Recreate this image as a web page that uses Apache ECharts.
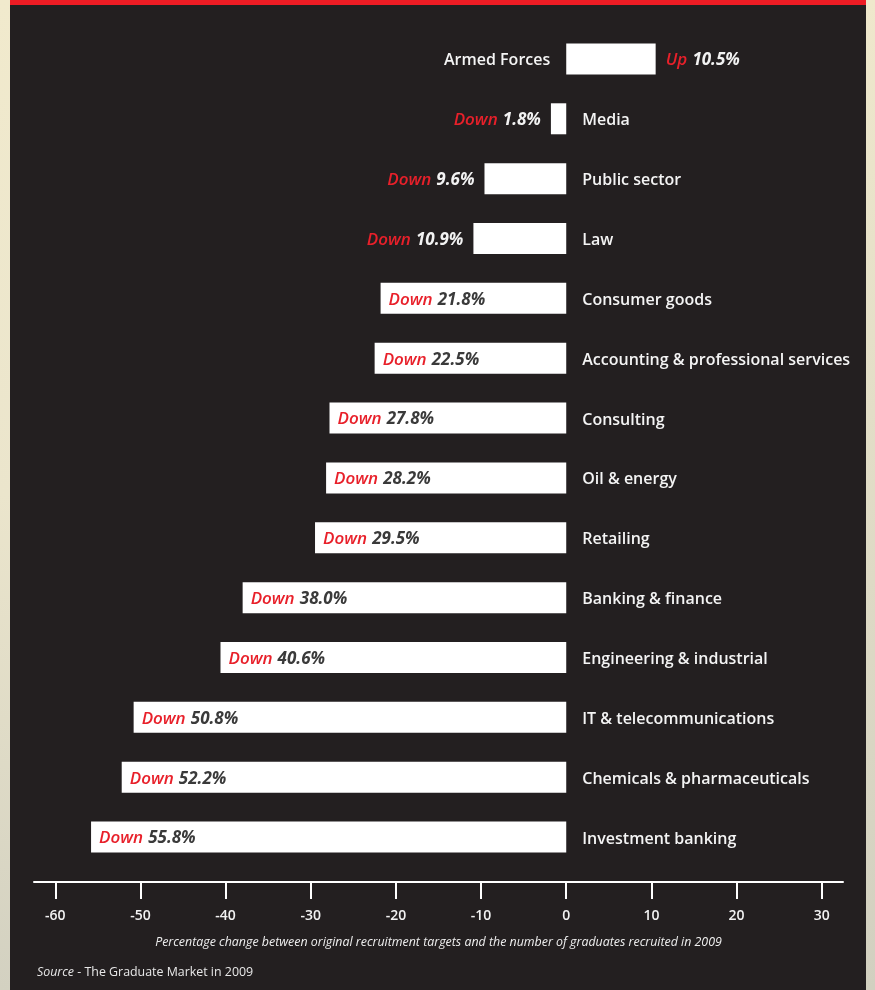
<!DOCTYPE html>
<html><head><meta charset="utf-8">
<script src="https://cdn.jsdelivr.net/npm/echarts@6/dist/echarts.min.js"></script>
<style>html,body{margin:0;padding:0;background:#231f20;}#c{width:875px;height:990px;}</style>
</head><body><div id="c"></div>
<script>
const categories = ['Armed Forces','Media','Public sector','Law','Consumer goods','Accounting & professional services','Consulting','Oil & energy','Retailing','Banking & finance','Engineering & industrial','IT & telecommunications','Chemicals & pharmaceuticals','Investment banking'];
const values = [10.5,-1.8,-9.6,-10.9,-21.8,-22.5,-27.8,-28.2,-29.5,-38.0,-40.6,-50.8,-52.2,-55.8];
const tickValues = [-60,-50,-40,-30,-20,-10,0,10,20,30];
const axisTitle = 'Percentage change between original recruitment targets and the number of graduates recruited in 2009';
const sourceLead = 'Source';
const sourceRest = ' - The Graduate Market in 2009';

const FONT = '"Open Sans", "Noto Sans", sans-serif';
const RED = '#e8202a';
const chart = echarts.init(document.getElementById('c'), null, {renderer:'canvas'});

const valueData = values.map(v => {
  const inside = v < -15;
  const word = v < 0 ? 'Down' : 'Up';
  const num = Math.abs(v).toFixed(1) + '%';
  return {
    value: v,
    label: {
      show: true,
      position: v >= 0 ? 'right' : (inside ? 'insideLeft' : 'left'),
      distance: inside ? 8 : 10,
      formatter: '{w|' + word + '} {n' + (inside ? 'd' : 'l') + '|' + num + '}'
    }
  };
});
const nameData = values.map((v, i) => ({
  value: v,
  label: {
    show: true,
    position: v < 0 ? 'right' : 'left',
    distance: 16,
    formatter: categories[i]
  }
}));

chart.setOption({
  backgroundColor: '#231f20',
  animation: false,
  graphic: [
    {type:'rect', left:0, top:0, shape:{width:10, height:990}, style:{fill:new echarts.graphic.LinearGradient(0,0,0,1,[{offset:0,color:'#f1eacd'},{offset:0.5,color:'#ebe5cc'},{offset:1,color:'#d3d1c1'}])}},
    {type:'rect', left:866, top:0, shape:{width:9, height:990}, style:{fill:new echarts.graphic.LinearGradient(0,0,0,1,[{offset:0,color:'#efe8cc'},{offset:1,color:'#d2d0c0'}])}},
    {type:'rect', left:10, top:0, shape:{width:856, height:5}, style:{fill:'#ed1c24'}}
  ],
  title: {
    left: 32, top: 961,
    text: '{i|' + sourceLead + '}{r|' + sourceRest + '}',
    textStyle: {
      rich: {
        i: {fontFamily: FONT, fontStyle:'italic', fontSize:12.4, color:'#e8e8e8', fontWeight:500},
        r: {fontFamily: FONT, fontSize:12.4, color:'#e8e8e8', fontWeight:500}
      }
    }
  },
  grid: {left:34, right:32, top:29, bottom:123, containLabel:false},
  xAxis: {
    type:'value', min:-62.5, max:32.5, offset:15,
    splitLine:{show:false},
    axisLine:{show:true, onZero:false, lineStyle:{color:'#ffffff', width:2}},
    axisTick:{show:true, customValues: tickValues, length:17, inside:false, lineStyle:{color:'#ffffff', width:2}},
    axisLabel:{customValues: tickValues, color:'#f2f2f2', fontFamily:FONT, fontWeight:600, fontSize:14, margin:27},
    name: axisTitle, nameLocation:'middle', nameGap:54,
    nameTextStyle:{color:'#eeeeee', fontFamily:FONT, fontStyle:'italic', fontSize:12.4, fontWeight:500}
  },
  yAxis: {type:'category', data:categories, inverse:true, show:false},
  series: [
    {
      type:'bar', data:valueData, barWidth:31, silent:true,
      itemStyle:{color:'#ffffff'},
      label:{
        fontFamily:FONT,
        padding:[3,0,0,0],
        rich:{
          w:{color:RED, fontStyle:'italic', fontWeight:600, fontSize:17, fontFamily:FONT, padding:[0,2,0,0]},
          nd:{color:'#3a3a3a', fontStyle:'italic', fontWeight:700, fontSize:17, fontFamily:FONT},
          nl:{color:'#f2f2f2', fontStyle:'italic', fontWeight:700, fontSize:17, fontFamily:FONT}
        }
      }
    },
    {
      type:'bar', data:nameData, barWidth:31, barGap:'-100%', silent:true,
      itemStyle:{color:'rgba(0,0,0,0)'},
      label:{color:'#f4f4f4', fontFamily:FONT, fontWeight:600, fontSize:16, offset:[0,2]}
    }
  ]
});
</script></body></html>
